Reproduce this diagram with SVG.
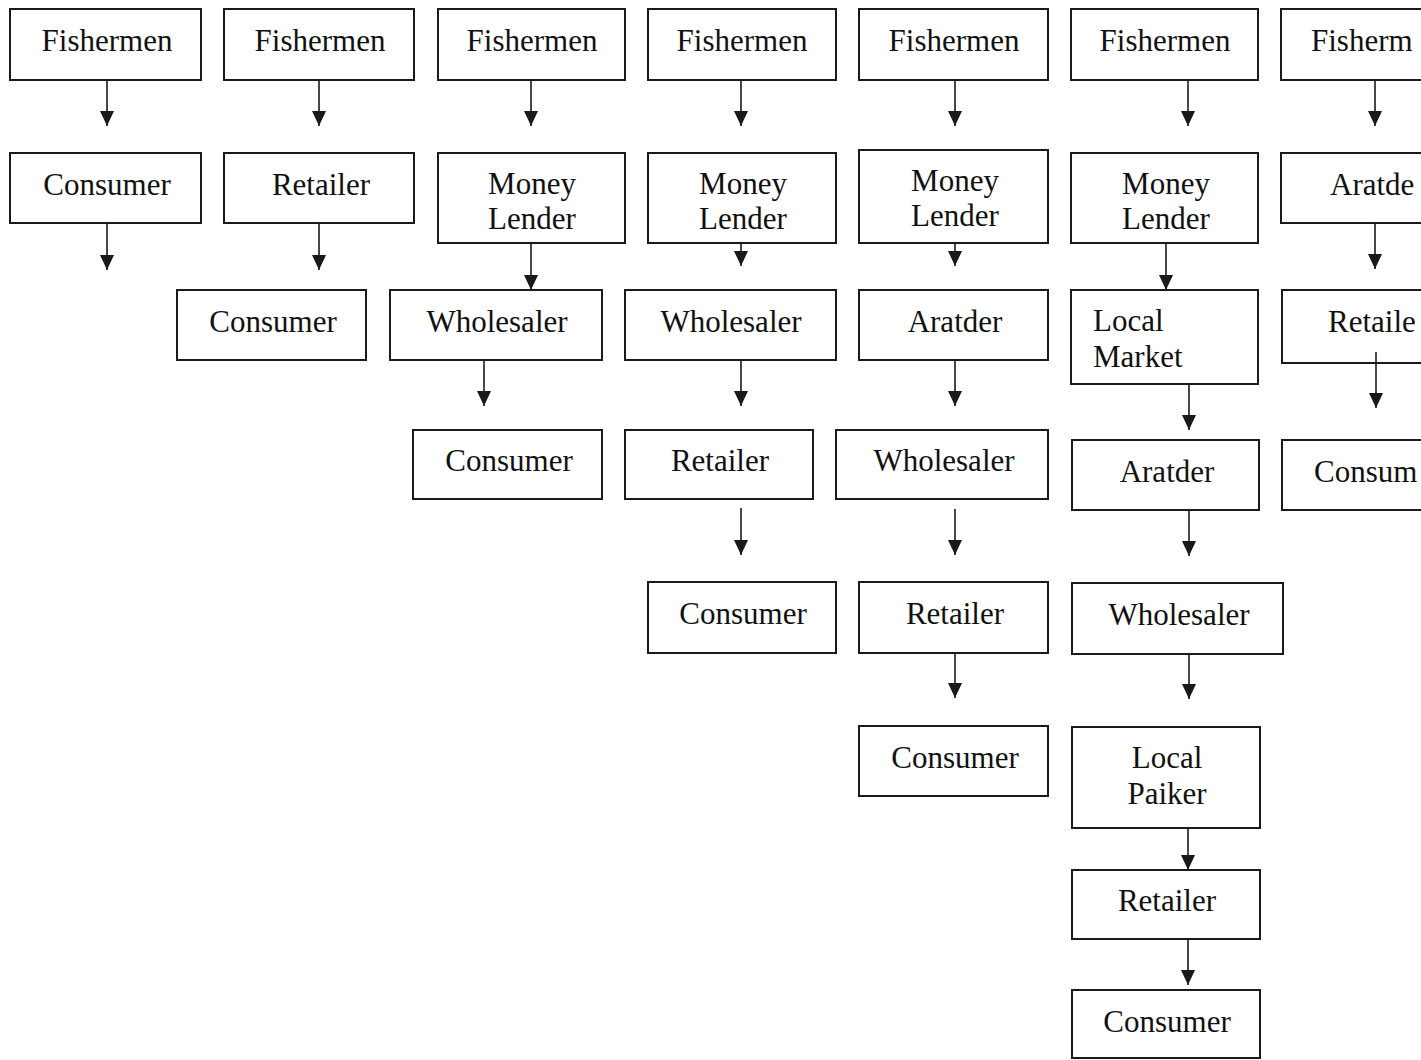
<svg xmlns="http://www.w3.org/2000/svg" width="1421" height="1060" viewBox="0 0 1421 1060">
  <style>
    .box { fill: #ffffff; stroke: #1a1a1a; stroke-width: 2; }
    text { font-family: 'Liberation Serif', 'DejaVu Serif', serif; font-size: 31px; fill: #111111; text-anchor: middle; }
    text.left { text-anchor: start; }
    .edge { stroke: #1a1a1a; stroke-width: 1.6; fill: none; marker-end: url(#head); }
  </style>
  <defs>
    <marker id="head" markerUnits="userSpaceOnUse" markerWidth="15" markerHeight="14" refX="15" refY="7" orient="auto" viewBox="0 0 15 14">
      <path d="M0,0 L15,7 L0,14 Z" fill="#1a1a1a"/>
    </marker>
  </defs>
  <rect width="1421" height="1060" fill="#ffffff"/>

  <!-- Chain 1: Fishermen -> Consumer -->
  <g id="c1-fishermen"><rect class="box" x="10" y="9" width="191" height="71"/><text x="107" y="51">Fishermen</text></g>
  <g id="c1-consumer"><rect class="box" x="10" y="153" width="191" height="70"/><text x="107" y="195">Consumer</text></g>

  <!-- Chain 2 -->
  <g id="c2-fishermen"><rect class="box" x="224" y="9" width="190" height="71"/><text x="320" y="51">Fishermen</text></g>
  <g id="c2-retailer"><rect class="box" x="224" y="153" width="190" height="70"/><text x="321" y="195">Retailer</text></g>
  <g id="c2-consumer"><rect class="box" x="177" y="290" width="189" height="70"/><text x="273" y="332">Consumer</text></g>

  <!-- Chain 3 -->
  <g id="c3-fishermen"><rect class="box" x="438" y="9" width="187" height="71"/><text x="532" y="51">Fishermen</text></g>
  <g id="c3-lender"><rect class="box" x="438" y="153" width="187" height="90"/><text x="532" y="194">Money</text><text x="532" y="229">Lender</text></g>
  <g id="c3-wholesaler"><rect class="box" x="390" y="290" width="212" height="70"/><text x="497" y="332">Wholesaler</text></g>
  <g id="c3-consumer"><rect class="box" x="413" y="430" width="189" height="69"/><text x="509" y="471">Consumer</text></g>

  <!-- Chain 4 -->
  <g id="c4-fishermen"><rect class="box" x="648" y="9" width="188" height="71"/><text x="742" y="51">Fishermen</text></g>
  <g id="c4-lender"><rect class="box" x="648" y="153" width="188" height="90"/><text x="743" y="194">Money</text><text x="743" y="229">Lender</text></g>
  <g id="c4-wholesaler"><rect class="box" x="625" y="290" width="211" height="70"/><text x="731" y="332">Wholesaler</text></g>
  <g id="c4-retailer"><rect class="box" x="625" y="430" width="188" height="69"/><text x="720" y="471">Retailer</text></g>
  <g id="c4-consumer"><rect class="box" x="648" y="582" width="188" height="71"/><text x="743" y="624">Consumer</text></g>

  <!-- Chain 5 -->
  <g id="c5-fishermen"><rect class="box" x="859" y="9" width="189" height="71"/><text x="954" y="51">Fishermen</text></g>
  <g id="c5-lender"><rect class="box" x="859" y="150" width="189" height="93"/><text x="955" y="191">Money</text><text x="955" y="226">Lender</text></g>
  <g id="c5-aratder"><rect class="box" x="859" y="290" width="189" height="70"/><text x="955" y="332">Aratder</text></g>
  <g id="c5-wholesaler"><rect class="box" x="836" y="430" width="212" height="69"/><text x="944" y="471">Wholesaler</text></g>
  <g id="c5-retailer"><rect class="box" x="859" y="582" width="189" height="71"/><text x="955" y="624">Retailer</text></g>
  <g id="c5-consumer"><rect class="box" x="859" y="726" width="189" height="70"/><text x="955" y="768">Consumer</text></g>

  <!-- Chain 6 -->
  <g id="c6-fishermen"><rect class="box" x="1071" y="9" width="187" height="71"/><text x="1165" y="51">Fishermen</text></g>
  <g id="c6-lender"><rect class="box" x="1071" y="153" width="187" height="90"/><text x="1166" y="194">Money</text><text x="1166" y="229">Lender</text></g>
  <g id="c6-market"><rect class="box" x="1071" y="290" width="187" height="94"/><text class="left" x="1093" y="331">Local</text><text class="left" x="1093" y="367">Market</text></g>
  <g id="c6-aratder"><rect class="box" x="1072" y="440" width="187" height="70"/><text x="1167" y="482">Aratder</text></g>
  <g id="c6-wholesaler"><rect class="box" x="1072" y="583" width="211" height="71"/><text x="1179" y="625">Wholesaler</text></g>
  <g id="c6-paiker"><rect class="box" x="1072" y="727" width="188" height="101"/><text x="1167" y="768">Local</text><text x="1167" y="804">Paiker</text></g>
  <g id="c6-retailer"><rect class="box" x="1072" y="870" width="188" height="69"/><text x="1167" y="911">Retailer</text></g>
  <g id="c6-consumer"><rect class="box" x="1072" y="990" width="188" height="68"/><text x="1167" y="1032">Consumer</text></g>

  <!-- Chain 7 (boxes run past the right edge) -->
  <g id="c7-fishermen"><rect class="box" x="1281" y="9" width="200" height="71"/><text class="left" x="1311" y="51">Fisherm</text></g>
  <g id="c7-aratder"><rect class="box" x="1281" y="153" width="200" height="70"/><text class="left" x="1330" y="195">Aratde</text></g>
  <g id="c7-retailer"><rect class="box" x="1282" y="290" width="200" height="73"/><text class="left" x="1328" y="332">Retaile</text></g>
  <g id="c7-consumer"><rect class="box" x="1282" y="440" width="200" height="70"/><text class="left" x="1314" y="482">Consum</text></g>

  <g id="connectors">
    <line class="edge" x1="107" y1="80" x2="107" y2="126"/>
    <line class="edge" x1="107" y1="223" x2="107" y2="270"/>

    <line class="edge" x1="319" y1="80" x2="319" y2="126"/>
    <line class="edge" x1="319" y1="223" x2="319" y2="270"/>

    <line class="edge" x1="531" y1="80" x2="531" y2="126"/>
    <line class="edge" x1="531" y1="243" x2="531" y2="290"/>
    <line class="edge" x1="484" y1="360" x2="484" y2="406"/>

    <line class="edge" x1="741" y1="80" x2="741" y2="126"/>
    <line class="edge" x1="741" y1="243" x2="741" y2="266"/>
    <line class="edge" x1="741" y1="360" x2="741" y2="406"/>
    <line class="edge" x1="741" y1="508" x2="741" y2="555"/>

    <line class="edge" x1="955" y1="80" x2="955" y2="126"/>
    <line class="edge" x1="955" y1="243" x2="955" y2="266"/>
    <line class="edge" x1="955" y1="360" x2="955" y2="406"/>
    <line class="edge" x1="955" y1="509" x2="955" y2="555"/>
    <line class="edge" x1="955" y1="653" x2="955" y2="698"/>

    <line class="edge" x1="1188" y1="80" x2="1188" y2="126"/>
    <line class="edge" x1="1166" y1="243" x2="1166" y2="290"/>
    <line class="edge" x1="1189" y1="384" x2="1189" y2="430"/>
    <line class="edge" x1="1189" y1="510" x2="1189" y2="556"/>
    <line class="edge" x1="1189" y1="654" x2="1189" y2="699"/>
    <line class="edge" x1="1188" y1="828" x2="1188" y2="870"/>
    <line class="edge" x1="1188" y1="939" x2="1188" y2="985"/>

    <line class="edge" x1="1375" y1="80" x2="1375" y2="126"/>
    <line class="edge" x1="1375" y1="223" x2="1375" y2="269"/>
    <line class="edge" x1="1376" y1="352" x2="1376" y2="408"/>
  </g>
</svg>
